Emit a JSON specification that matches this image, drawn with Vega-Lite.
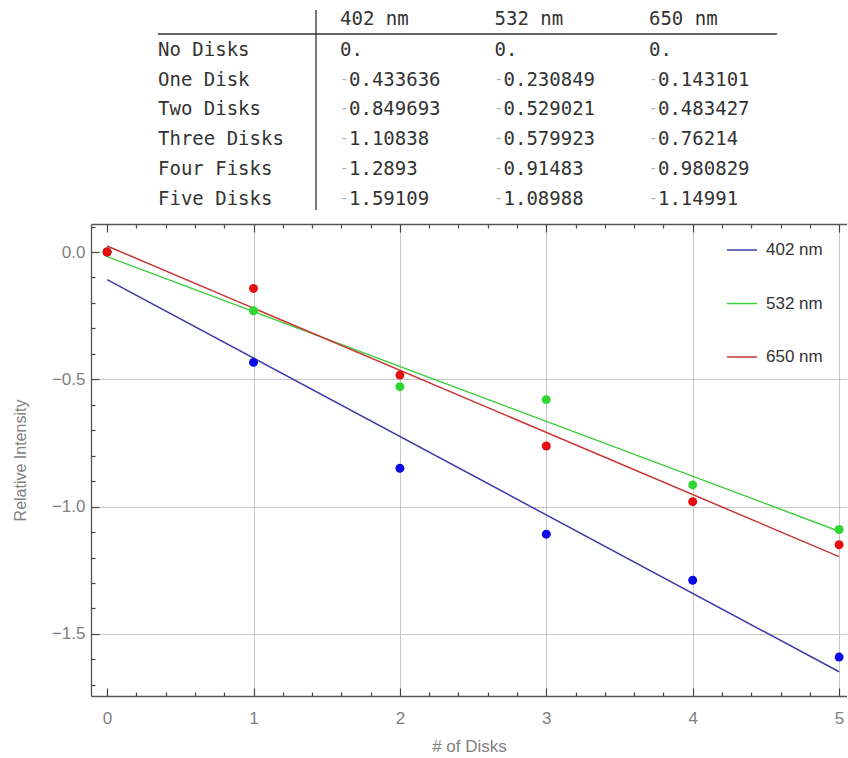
{
  "$schema": "https://vega.github.io/schema/vega-lite/v6.json",
  "padding": {"left": 12, "top": 0, "right": 0, "bottom": 0},
  "spacing": 12,
  "background": "white",
  "datasets": {
    "meas": [
      {"disks": 0, "label": "No Disks", "nm": "402 nm", "col": 1, "value": 0, "txt": "0."},
      {"disks": 1, "label": "One Disk", "nm": "402 nm", "col": 1, "value": -0.433636, "txt": "0.433636"},
      {"disks": 2, "label": "Two Disks", "nm": "402 nm", "col": 1, "value": -0.849693, "txt": "0.849693"},
      {"disks": 3, "label": "Three Disks", "nm": "402 nm", "col": 1, "value": -1.10838, "txt": "1.10838"},
      {"disks": 4, "label": "Four Fisks", "nm": "402 nm", "col": 1, "value": -1.2893, "txt": "1.2893"},
      {"disks": 5, "label": "Five Disks", "nm": "402 nm", "col": 1, "value": -1.59109, "txt": "1.59109"},
      {"disks": 0, "label": "No Disks", "nm": "532 nm", "col": 2, "value": 0, "txt": "0."},
      {"disks": 1, "label": "One Disk", "nm": "532 nm", "col": 2, "value": -0.230849, "txt": "0.230849"},
      {"disks": 2, "label": "Two Disks", "nm": "532 nm", "col": 2, "value": -0.529021, "txt": "0.529021"},
      {"disks": 3, "label": "Three Disks", "nm": "532 nm", "col": 2, "value": -0.579923, "txt": "0.579923"},
      {"disks": 4, "label": "Four Fisks", "nm": "532 nm", "col": 2, "value": -0.91483, "txt": "0.91483"},
      {"disks": 5, "label": "Five Disks", "nm": "532 nm", "col": 2, "value": -1.08988, "txt": "1.08988"},
      {"disks": 0, "label": "No Disks", "nm": "650 nm", "col": 3, "value": 0, "txt": "0."},
      {"disks": 1, "label": "One Disk", "nm": "650 nm", "col": 3, "value": -0.143101, "txt": "0.143101"},
      {"disks": 2, "label": "Two Disks", "nm": "650 nm", "col": 3, "value": -0.483427, "txt": "0.483427"},
      {"disks": 3, "label": "Three Disks", "nm": "650 nm", "col": 3, "value": -0.76214, "txt": "0.76214"},
      {"disks": 4, "label": "Four Fisks", "nm": "650 nm", "col": 3, "value": -0.980829, "txt": "0.980829"},
      {"disks": 5, "label": "Five Disks", "nm": "650 nm", "col": 3, "value": -1.14991, "txt": "1.14991"}
    ],
    "headers": [
      {"nm": "402 nm", "col": 1},
      {"nm": "532 nm", "col": 2},
      {"nm": "650 nm", "col": 3}
    ]
  },
  "config": {
    "view": {"stroke": null},
    "text": {"font": "DejaVu Sans Mono", "fontSize": 19, "color": "#333333", "baseline": "middle", "align": "left"}
  },
  "vconcat": [
    {
      "width": 756,
      "height": 210,
      "encoding": {
        "x": {"type": "quantitative", "scale": {"domain": [-0.6117, 4.2816], "nice": false, "zero": false}, "axis": null},
        "y": {"type": "quantitative", "scale": {"domain": [-1.6835, 5.387], "nice": false, "zero": false, "reverse": true}, "axis": null}
      },
      "layer": [
        {
          "data": {"name": "meas"},
          "transform": [{"filter": "datum.nm === '402 nm'"}],
          "mark": {"type": "text"},
          "encoding": {
            "x": {"datum": -0.178, "type": "quantitative"},
            "y": {"field": "disks", "type": "quantitative"},
            "text": {"field": "label"}
          }
        },
        {
          "data": {"name": "headers"},
          "mark": {"type": "text", "dy": -1},
          "encoding": {
            "x": {"field": "col", "type": "quantitative"},
            "y": {"datum": -1, "type": "quantitative"},
            "text": {"field": "nm"}
          }
        },
        {
          "data": {"name": "meas"},
          "transform": [{"filter": "datum.value === 0"}],
          "mark": {"type": "text"},
          "encoding": {
            "x": {"field": "col", "type": "quantitative"},
            "y": {"field": "disks", "type": "quantitative"},
            "text": {"field": "txt"}
          }
        },
        {
          "data": {"name": "meas"},
          "transform": [{"filter": "datum.value < 0"}],
          "mark": {"type": "text", "dx": 9},
          "encoding": {
            "x": {"field": "col", "type": "quantitative"},
            "y": {"field": "disks", "type": "quantitative"},
            "text": {"field": "txt"}
          }
        },
        {
          "data": {"name": "meas"},
          "transform": [{"filter": "datum.value < 0"}],
          "mark": {"type": "text", "dx": 0, "fontSize": 14, "color": "#aaaaaa"},
          "encoding": {
            "x": {"field": "col", "type": "quantitative"},
            "y": {"field": "disks", "type": "quantitative"},
            "text": {"value": "-"}
          }
        },
        {
          "data": {"values": [{}]},
          "mark": {"type": "rule", "color": "#333333", "strokeWidth": 1.3},
          "encoding": {
            "x": {"datum": 0.8447, "type": "quantitative"},
            "y": {"datum": -1.35, "type": "quantitative"},
            "y2": {"datum": 5.387}
          }
        },
        {
          "data": {"values": [{}]},
          "mark": {"type": "rule", "color": "#333333", "strokeWidth": 1.3},
          "encoding": {
            "x": {"datum": -0.178, "type": "quantitative"},
            "x2": {"datum": 3.828},
            "y": {"datum": -0.539, "type": "quantitative"}
          }
        }
      ]
    },
    {
      "width": 756,
      "height": 472,
      "resolve": {"axis": {"x": "independent", "y": "independent"}, "scale": {"fill": "independent", "stroke": "independent"}},
      "layer": [
        {
          "data": {"name": "meas"},
          "transform": [{"regression": "value", "on": "disks", "groupby": ["nm"], "extent": [0, 5]}],
          "mark": {"type": "line", "strokeWidth": 1.5, "clip": true},
          "encoding": {
            "x": {
              "field": "disks", "type": "quantitative", "title": "# of Disks",
              "scale": {"domain": [-0.11, 5.054], "nice": false, "zero": false},
              "axis": {
                "orient": "bottom",
                "values": [0, 1, 2, 3, 4, 5],
                "format": "d",
                "ticks": false,
                "grid": true,
                "gridColor": "#c8c8c8",
                "gridOpacity": {"condition": {"test": "datum.value === 0", "value": 0}, "value": 1},
                "domainColor": "#555555", "domainWidth": 1.3,
                "labelFont": "Liberation Sans", "labelFontSize": 17, "labelColor": "#808080",
                "labelPadding": 14, "labelOverlap": false, "labelFlush": false, "labelBound": false,
                "titleFont": "Liberation Sans", "titleFontSize": 17, "titleColor": "#808080", "titleFontWeight": "normal", "titlePadding": 12
              }
            },
            "y": {
              "field": "value", "type": "quantitative", "title": "Relative Intensity",
              "scale": {"domain": [-1.744, 0.11], "nice": false, "zero": false},
              "axis": {
                "orient": "left",
                "values": [0, -0.5, -1, -1.5],
                "format": ".1f",
                "ticks": false,
                "grid": true,
                "gridColor": "#c8c8c8",
                "gridOpacity": {"condition": {"test": "datum.value === 0", "value": 0}, "value": 1},
                "domainColor": "#555555", "domainWidth": 1.3,
                "labelFont": "Liberation Sans", "labelFontSize": 17, "labelColor": "#808080",
                "labelPadding": 6, "labelOverlap": false, "labelFlush": false, "labelBound": false,
                "titleFont": "Liberation Sans", "titleFontSize": 16, "titleColor": "#808080", "titleFontWeight": "normal", "titlePadding": 23
              }
            },
            "stroke": {
              "field": "nm", "type": "nominal",
              "scale": {"domain": ["402 nm", "532 nm", "650 nm"], "range": ["#3c3ca8", "#3fd03f", "#c83636"]},
              "legend": {
                "title": null, "orient": "none", "legendX": 635, "legendY": 10, "padding": 0,
                "symbolType": "stroke", "symbolSize": 900, "symbolStrokeWidth": 1.5,
                "labelFont": "Liberation Sans", "labelFontSize": 17, "labelColor": "#333333",
                "labelOffset": 8, "rowPadding": 29.5
              }
            }
          }
        },
        {
          "data": {"name": "meas"},
          "mark": {"type": "circle", "size": 80, "opacity": 0},
          "encoding": {
            "x": {
              "field": "disks", "type": "quantitative",
              "axis": {
                "orient": "bottom", "title": null, "labels": false, "grid": false, "domain": false,
                "values": [0, 1, 2, 3, 4, 5], "offset": -8,
                "tickSize": 8, "tickColor": "#444444", "tickWidth": 1.2
              }
            },
            "y": {
              "field": "value", "type": "quantitative",
              "axis": {
                "orient": "left", "title": null, "labels": false, "grid": false, "domain": false,
                "values": [0, -0.5, -1, -1.5], "offset": -8,
                "tickSize": 8, "tickColor": "#444444", "tickWidth": 1.2
              }
            }
          }
        },
        {
          "data": {"name": "meas"},
          "mark": {"type": "circle", "size": 80, "opacity": 0},
          "encoding": {
            "x": {
              "field": "disks", "type": "quantitative",
              "axis": {
                "orient": "bottom", "title": null, "labels": false, "grid": false, "domain": false,
                "values": [0.2, 0.4, 0.6, 0.8, 1.2, 1.4, 1.6, 1.8, 2.2, 2.4, 2.6, 2.8, 3.2, 3.4, 3.6, 3.8, 4.2, 4.4, 4.6, 4.8], "offset": -4,
                "tickSize": 4, "tickColor": "#444444", "tickWidth": 1.2
              }
            },
            "y": {
              "field": "value", "type": "quantitative",
              "axis": {
                "orient": "left", "title": null, "labels": false, "grid": false, "domain": false,
                "values": [0.1, -0.1, -0.2, -0.3, -0.4, -0.6, -0.7, -0.8, -0.9, -1.1, -1.2, -1.3, -1.4, -1.6, -1.7], "offset": -4,
                "tickSize": 4, "tickColor": "#444444", "tickWidth": 1.2
              }
            }
          }
        },
        {
          "data": {"name": "meas"},
          "mark": {"type": "circle", "size": 80, "opacity": 0},
          "encoding": {
            "x": {
              "field": "disks", "type": "quantitative",
              "axis": {
                "orient": "top", "title": null, "labels": false, "grid": false, "domain": false,
                "values": [0.2, 0.4, 0.6, 0.8, 1.2, 1.4, 1.6, 1.8, 2.2, 2.4, 2.6, 2.8, 3.2, 3.4, 3.6, 3.8, 4.2, 4.4, 4.6, 4.8], "offset": -4,
                "tickSize": 4, "tickColor": "#444444", "tickWidth": 1.2
              }
            },
            "y": {"field": "value", "type": "quantitative", "axis": null}
          }
        },
        {
          "data": {"name": "meas"},
          "mark": {"type": "circle", "size": 80, "opacity": 0},
          "encoding": {
            "x": {
              "field": "disks", "type": "quantitative",
              "axis": {
                "orient": "top", "title": null, "labels": false, "grid": false, "domain": false,
                "values": [0, 1, 2, 3, 4, 5], "offset": -8,
                "tickSize": 8, "tickColor": "#444444", "tickWidth": 1.2
              }
            },
            "y": {"field": "value", "type": "quantitative", "axis": null}
          }
        },
        {
          "data": {"name": "meas"},
          "mark": {"type": "circle", "size": 80, "opacity": 1},
          "encoding": {
            "x": {
              "field": "disks", "type": "quantitative",
              "axis": {
                "orient": "top", "title": null, "labels": false, "grid": false, "ticks": false,
                "domainColor": "#555555", "domainWidth": 1.3
              }
            },
            "y": {"field": "value", "type": "quantitative", "axis": null},
            "fill": {
              "field": "nm", "type": "nominal",
              "scale": {"domain": ["402 nm", "532 nm", "650 nm"], "range": ["#0a0ae6", "#2fd62f", "#e60f0f"]},
              "legend": null
            }
          }
        }
      ]
    }
  ]
}
